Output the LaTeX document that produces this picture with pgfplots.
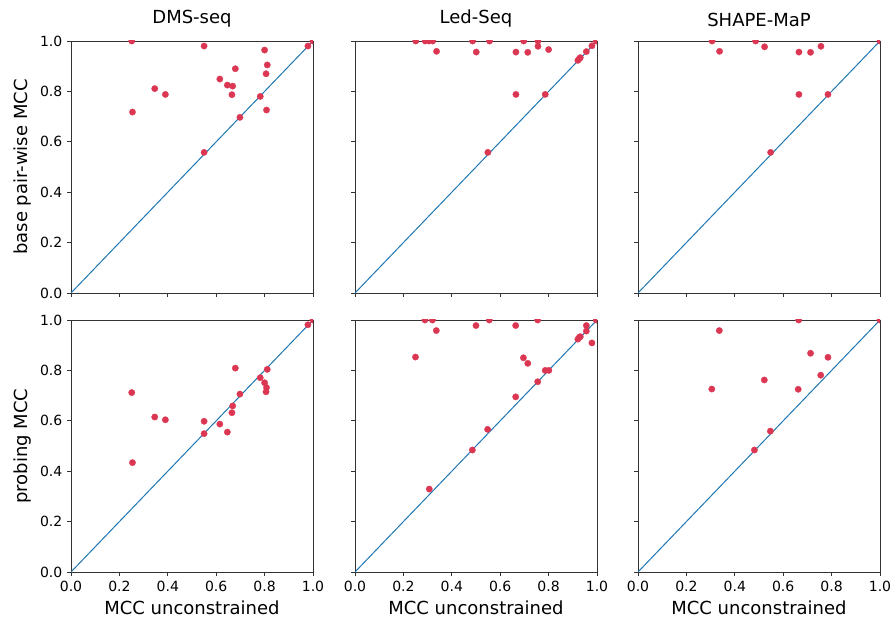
\documentclass[border=0pt]{standalone}
\usepackage{pgfplots}
\pgfplotsset{compat=1.18}
\usepackage{fontspec}
\setmainfont{DejaVu Sans}
\definecolor{mcblue}{HTML}{1F77B4}
\definecolor{mred}{RGB}{220,55,82}
\pgfplotsset{
  panel/.style={
    scale only axis, width=181.5pt, height=189pt,
    xmin=0, xmax=1, ymin=0, ymax=1,
    xtick={0,0.2,...,1.0}, ytick={0,0.2,...,1.0},
    tick align=outside, major tick length=3pt,
    xtick pos=bottom, ytick pos=left,
    clip marker paths=true,
    /pgf/number format/assume math mode=true,
    /pgf/number format/fixed, /pgf/number format/fixed zerofill,
    /pgf/number format/precision=1,
    tick label style={font=\fontsize{10.5}{12}\selectfont},
    label style={font=\fontsize{13.5}{16}\selectfont},
    title style={font=\fontsize{13.5}{16}\selectfont, yshift=1pt},
    axis line style={black!80, line width=0.6pt},
    tick style={black!80, line width=0.6pt},
    anchor=north west,
  },
  noxl/.style={xticklabels={}},
  noyl/.style={yticklabels={}},
  diag/.style={mcblue, line width=0.75pt},
  pts/.style={only marks, mark=*, mark size=2.4pt, color=mred, mark options={fill=mred, draw=mred, line width=0.2pt}},
}
\begin{document}
\begin{tikzpicture}
\path[use as bounding box] (0,0) rectangle (667.5pt,-465pt);
% ---------- top row ----------
\begin{axis}[panel, at={(53.25pt,-30.75pt)}, title={DMS-seq}, ylabel={base pair-wise MCC}, noxl]
\addplot[diag] coordinates {(0,0) (1,1)};
\addplot[pts] coordinates {
(0.251,1.0) (0.550,0.980) (0.800,0.964) (0.979,0.980) (1.0,1.0)
(0.679,0.890) (0.811,0.905) (0.806,0.870) (0.615,0.849) (0.646,0.825)
(0.668,0.821) (0.346,0.811) (0.390,0.788) (0.665,0.787) (0.782,0.780)
(0.254,0.718) (0.808,0.726) (0.698,0.697) (0.550,0.558)
};
\end{axis}
\begin{axis}[panel, at={(266.25pt,-30.75pt)}, title={Led-Seq}, noxl, noyl]
\addplot[diag] coordinates {(0,0) (1,1)};
\addplot[pts] coordinates {
(0.251,1.0) (0.290,1.0) (0.306,1.0) (0.321,1.0) (0.337,0.959)
(0.486,1.0) (0.501,0.956) (0.556,1.0) (0.665,0.956) (0.697,1.0)
(0.714,0.955) (0.756,1.0) (0.756,0.979) (0.800,0.966) (0.665,0.788)
(0.786,0.788) (0.549,0.558) (0.921,0.923) (0.927,0.930) (0.931,0.934)
(0.956,0.958) (0.979,0.981) (0.997,1.0)
};
\end{axis}
\begin{axis}[panel, at={(478.5pt,-30.75pt)}, title={SHAPE-MaP}, noxl, noyl]
\addplot[diag] coordinates {(0,0) (1,1)};
\addplot[pts] coordinates {
(0.306,1.0) (0.337,0.959) (0.486,1.0) (0.523,0.977) (0.665,0.956)
(0.713,0.955) (0.756,0.979) (0.665,0.788) (0.785,0.788) (0.548,0.558)
(1.0,1.0)
};
\end{axis}
% ---------- bottom row ----------
\begin{axis}[panel, at={(53.25pt,-240pt)}, ylabel={probing MCC}, xlabel={MCC unconstrained}]
\addplot[diag] coordinates {(0,0) (1,1)};
\addplot[pts] coordinates {
(0.979,0.981) (1.0,1.0) (0.679,0.809) (0.811,0.804) (0.782,0.771)
(0.800,0.751) (0.808,0.732) (0.806,0.715) (0.698,0.706) (0.251,0.712)
(0.668,0.659) (0.665,0.632) (0.346,0.615) (0.390,0.604) (0.550,0.598)
(0.615,0.587) (0.646,0.555) (0.550,0.549) (0.254,0.434)
};
\end{axis}
\begin{axis}[panel, at={(266.25pt,-240pt)}, xlabel={MCC unconstrained}, noyl]
\addplot[diag] coordinates {(0,0) (1,1)};
\addplot[pts] coordinates {
(0.289,1.0) (0.320,1.0) (0.336,0.958) (0.500,0.978) (0.555,1.0)
(0.664,0.978) (0.755,1.0) (0.250,0.853) (0.696,0.850) (0.714,0.828)
(0.786,0.800) (0.801,0.800) (0.755,0.755) (0.664,0.695) (0.548,0.566)
(0.485,0.484) (0.307,0.329) (0.956,0.978) (0.956,0.956) (0.921,0.924)
(0.927,0.931) (0.931,0.934) (0.979,0.909) (0.997,1.0)
};
\end{axis}
\begin{axis}[panel, at={(478.5pt,-240pt)}, xlabel={MCC unconstrained}, noyl]
\addplot[diag] coordinates {(0,0) (1,1)};
\addplot[pts] coordinates {
(0.336,0.958) (0.664,1.0) (0.713,0.868) (0.785,0.852) (0.755,0.781)
(0.522,0.762) (0.305,0.726) (0.662,0.725) (0.547,0.559) (0.481,0.484)
(1.0,1.0)
};
\end{axis}
\end{tikzpicture}
\end{document}
